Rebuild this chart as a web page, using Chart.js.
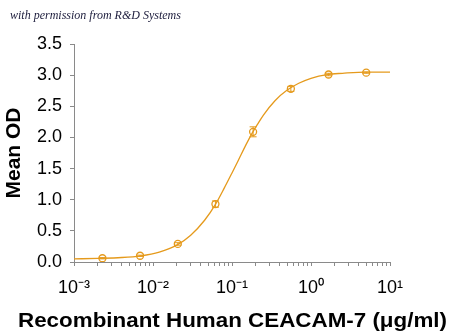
<!DOCTYPE html>
<html>
<head>
<meta charset="utf-8">
<script src="https://cdn.jsdelivr.net/npm/chart.js@4"></script>
<style>
  html, body { margin: 0; padding: 0; background: #ffffff; }
  #wrap { width: 450px; height: 335px; position: relative; }
</style>
</head>
<body>
<div id="wrap"><canvas id="c" width="450" height="335"></canvas></div>
<script>
// ---- data ----
const watermark = "with permission from R&D Systems";
const xTitle = "Recombinant Human CEACAM-7 (\u03BCg/ml)";
const yTitle = "Mean OD";

// measured points (µg/ml, mean OD, error)
const doses  = [0.00229, 0.00686, 0.0206, 0.0617, 0.185, 0.556, 1.667, 5];
const meanOD = [0.06, 0.10, 0.29, 0.93, 2.09, 2.78, 3.01, 3.04];
const errOD  = [0.01, 0.01, 0.02, 0.05, 0.08, 0.04, 0.02, 0.01];

// fitted curve at sample positions
const curveX = [0.001, 0.002, 0.004, 0.007, 0.012, 0.02, 0.03, 0.045, 0.062, 0.08, 0.1, 0.12, 0.15, 0.18, 0.21, 0.25, 0.35, 0.5, 0.7, 1.0, 1.6, 2.5, 5, 10];
const curveY = [0.05, 0.058, 0.072, 0.10, 0.16, 0.27, 0.43, 0.67, 0.93, 1.19, 1.43, 1.63, 1.88, 2.07, 2.21, 2.36, 2.59, 2.76, 2.87, 2.95, 3.01, 3.03, 3.05, 3.05];

// axis ticks
const xMajorTicks = [0.001, 0.01, 0.1, 1, 10];
const xMajorLabels = ["10\u207B\u00B3", "10\u207B\u00B2", "10\u207B\u00B9", "10\u2070", "10\u00B9"];
const xMinorMultipliers = [2, 3, 4, 5, 6, 7, 8, 9];
const yTicks = [0.0, 0.5, 1.0, 1.5, 2.0, 2.5, 3.0, 3.5];

const orange = "#E59A1C";
const axisGray = "#8a8a8a";

const errorBars = {
  id: "errorBars",
  afterDatasetsDraw(chart) {
    const xs = chart.scales.x, ys = chart.scales.y, ctx = chart.ctx;
    ctx.save();
    ctx.strokeStyle = orange;
    ctx.lineWidth = 1;
    doses.forEach((d, i) => {
      const px = xs.getPixelForValue(d);
      const top = ys.getPixelForValue(meanOD[i] + errOD[i]);
      const bot = ys.getPixelForValue(meanOD[i] - errOD[i]);
      ctx.beginPath();
      ctx.moveTo(px, top); ctx.lineTo(px, bot);
      ctx.moveTo(px - 3.5, top); ctx.lineTo(px + 3.5, top);
      ctx.moveTo(px - 3.5, bot); ctx.lineTo(px + 3.5, bot);
      ctx.stroke();
    });
    ctx.restore();
  }
};

// watermark text and the (horizontally stretched) x-axis title
const textPlugin = {
  id: "texts",
  afterDraw(chart) {
    const ctx = chart.ctx;
    ctx.save();
    ctx.font = "italic 12px 'Liberation Serif', 'DejaVu Serif', serif";
    ctx.fillStyle = "#1c1c3c";
    ctx.textBaseline = "alphabetic";
    ctx.textAlign = "left";
    ctx.fillText(watermark, 10, 19);
    ctx.restore();

    const xs = chart.scales.x;
    ctx.save();
    ctx.font = "bold 21px 'Liberation Sans', Arial, sans-serif";
    ctx.fillStyle = "#000000";
    ctx.textAlign = "center";
    ctx.textBaseline = "middle";
    const w = ctx.measureText(xTitle).width;
    const targetW = 429;
    ctx.translate(232.5, xs.bottom - 14);
    ctx.scale(targetW / w, 1);
    ctx.fillText(xTitle, 0, 0);
    ctx.restore();
  }
};

const xTickValues = xMajorTicks.slice();
xMajorTicks.slice(0, -1).forEach(dec => xMinorMultipliers.forEach(m => xTickValues.push(dec * m)));
xTickValues.sort((a, b) => a - b);

function isMajor(v) {
  return xMajorTicks.some(t => Math.abs(v - t) / t < 1e-6);
}

new Chart(document.getElementById("c"), {
  data: {
    datasets: [
      {
        type: "line",
        data: curveX.map((x, i) => ({ x: x, y: curveY[i] })),
        borderColor: orange,
        borderWidth: 1.3,
        pointRadius: 0,
        fill: false,
        cubicInterpolationMode: "monotone",
        order: 2
      },
      {
        type: "scatter",
        data: doses.map((x, i) => ({ x: x, y: meanOD[i] })),
        borderColor: orange,
        backgroundColor: "rgba(255,255,255,0)",
        borderWidth: 1.3,
        pointRadius: 3.5,
        pointStyle: "circle",
        order: 1
      }
    ]
  },
  options: {
    responsive: false,
    animation: false,
    devicePixelRatio: 1,
    layout: { padding: { left: 0, top: 44, right: 60, bottom: 0 } },
    plugins: {
      legend: { display: false },
      tooltip: { enabled: false },
      title: { display: false }
    },
    scales: {
      x: {
        type: "logarithmic",
        min: 0.001,
        max: 10,
        afterFit(scale) { scale.height = 73; },
        afterBuildTicks(scale) {
          scale.ticks = xTickValues.map(v => ({ value: v, major: isMajor(v) }));
        },
        border: { display: true, color: axisGray, width: 1 },
        grid: {
          display: true,
          drawOnChartArea: false,
          drawTicks: true,
          tickLength: 4,
          color: axisGray,
          tickColor: axisGray
        },
        ticks: {
          autoSkip: false,
          maxRotation: 0,
          padding: 11,
          color: "#000000",
          font: { family: "'Liberation Sans', Arial, sans-serif", size: 18 },
          callback(value) {
            const idx = xMajorTicks.findIndex(t => Math.abs(value - t) / t < 1e-6);
            return idx >= 0 ? xMajorLabels[idx] : "";
          }
        },
        title: { display: false, text: xTitle }
      },
      y: {
        type: "linear",
        min: 0,
        max: 3.5,
        afterFit(scale) { scale.width = 74; },
        afterBuildTicks(scale) {
          scale.ticks = yTicks.map(v => ({ value: v }));
        },
        border: { display: true, color: axisGray, width: 1 },
        grid: {
          display: true,
          drawOnChartArea: false,
          drawTicks: true,
          tickLength: 4,
          color: axisGray,
          tickColor: axisGray
        },
        ticks: {
          padding: 8,
          color: "#000000",
          font: { family: "'Liberation Sans', Arial, sans-serif", size: 18 },
          callback(value) { return Number(value).toFixed(1); }
        },
        title: {
          display: true,
          text: yTitle,
          color: "#000000",
          font: { family: "'Liberation Sans', Arial, sans-serif", size: 21, weight: "bold" },
          padding: { top: 2, bottom: 0 }
        }
      }
    }
  },
  plugins: [errorBars, textPlugin]
});
</script>
</body>
</html>
